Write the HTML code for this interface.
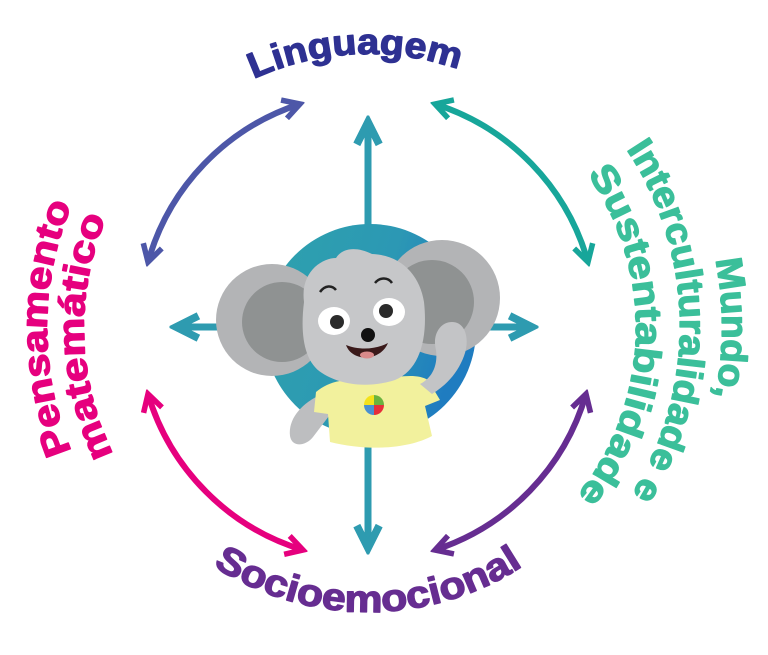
<!DOCTYPE html>
<html><head><meta charset="utf-8"><style>
html,body{margin:0;padding:0;background:#fff;}
svg{display:block;}
text{font-family:"Liberation Sans",sans-serif;font-weight:bold;stroke-width:1.3;stroke-linejoin:round;}
</style></head><body>
<svg width="768" height="655" viewBox="0 0 768 655" xmlns="http://www.w3.org/2000/svg">
<defs>
<linearGradient id="cg" x1="0" y1="0" x2="1" y2="0.3">
<stop offset="0" stop-color="#2ea2ad"/><stop offset="0.6" stop-color="#2c98b4"/><stop offset="1" stop-color="#1f7cc0"/>
</linearGradient>
<marker id="mb" viewBox="0 0 10 10" refX="8" refY="5" markerUnits="userSpaceOnUse" markerWidth="24" markerHeight="24" orient="auto-start-reverse"><path d="M1,1 L8,5 L1,9" fill="none" stroke="#4d57a8" stroke-width="2.3"/></marker>
<marker id="mt" viewBox="0 0 10 10" refX="8" refY="5" markerUnits="userSpaceOnUse" markerWidth="24" markerHeight="24" orient="auto-start-reverse"><path d="M1,1 L8,5 L1,9" fill="none" stroke="#17a69a" stroke-width="2.3"/></marker>
<marker id="mp" viewBox="0 0 10 10" refX="8" refY="5" markerUnits="userSpaceOnUse" markerWidth="24" markerHeight="24" orient="auto-start-reverse"><path d="M1,1 L8,5 L1,9" fill="none" stroke="#662d91" stroke-width="2.3"/></marker>
<marker id="mm" viewBox="0 0 10 10" refX="8" refY="5" markerUnits="userSpaceOnUse" markerWidth="24" markerHeight="24" orient="auto-start-reverse"><path d="M1,1 L8,5 L1,9" fill="none" stroke="#e6007e" stroke-width="2.3"/></marker>
<marker id="ms" viewBox="0 0 10 10" refX="8" refY="5" markerUnits="userSpaceOnUse" markerWidth="32" markerHeight="32" orient="auto-start-reverse"><path d="M1,1.5 L8,5 L1,8.5" fill="none" stroke="#2e9bb0" stroke-width="2.4"/></marker>
<path id="pTop" d="M94 328 A274 274 0 0 1 642 328"/>
<path id="pBot" d="M84 328 A284 284 0 0 0 652 328"/>
<path id="pR1" d="M368 -26 A354 354 0 0 1 368 682"/>
<path id="pR2" d="M362 8 A318 318 0 0 1 362 644"/>
<path id="pR3" d="M368 60 A268 268 0 0 1 368 596"/>
<path id="pL1" d="M368 649 A321 321 0 0 1 368 7"/>
<path id="pL2" d="M368 612 A284 284 0 0 1 368 44"/>
</defs>

<path d="M148 262 A232 232 0 0 1 300 104" fill="none" stroke="#4d57a8" stroke-width="6" marker-start="url(#mb)" marker-end="url(#mb)"/>
<path d="M435 104 A232 232 0 0 1 588 262" fill="none" stroke="#17a69a" stroke-width="6" marker-start="url(#mt)" marker-end="url(#mt)"/>
<path d="M586 394 A232 232 0 0 1 435 550" fill="none" stroke="#662d91" stroke-width="6" marker-start="url(#mp)" marker-end="url(#mp)"/>
<path d="M303 550 A232 232 0 0 1 148 394" fill="none" stroke="#e6007e" stroke-width="6" marker-start="url(#mm)" marker-end="url(#mm)"/>

<line x1="368" y1="122" x2="368" y2="548" stroke="#2e9bb0" stroke-width="7" marker-start="url(#ms)" marker-end="url(#ms)"/>
<line x1="176" y1="327" x2="532" y2="327" stroke="#2e9bb0" stroke-width="7" marker-start="url(#ms)" marker-end="url(#ms)"/>

<circle cx="370" cy="330" r="106" fill="url(#cg)"/>

<circle cx="272" cy="320" r="56" fill="#b3b4b6"/>
<circle cx="282" cy="322" r="40" fill="#8f9292"/>
<circle cx="442" cy="298" r="58" fill="#b3b4b6"/>
<circle cx="432" cy="302" r="42" fill="#8f9292"/>
<path d="M318 396 C300 405 288 420 290 436 C292 448 306 446 313 437 L332 412 Z" fill="#bdbec0"/>
<path d="M316 392 C330 380 350 378 368 380 C395 378 415 372 428 380 L440 400 L425 406 L432 436 C410 448 370 452 330 442 L328 414 L314 412 Z" fill="#f2f19d"/>
<path d="M420 384 C432 378 438 366 436 350 C432 335 440 322 452 322 C466 322 470 340 464 356 C458 372 448 384 432 394 Z" fill="#c3c4c6"/>
<path d="M304 302 C300 272 322 258 336 258 C342 248 356 246 372 254 C402 255 420 276 424 302 C428 338 420 370 395 380 C370 388 342 386 322 373 C304 362 300 334 304 302 Z" fill="#c6c7c9"/>
<ellipse cx="334" cy="321" rx="16" ry="14" fill="#fff"/>
<ellipse cx="389" cy="312" rx="16" ry="14" fill="#fff"/>
<circle cx="337" cy="322" r="7" fill="#2b2b2b"/>
<circle cx="386" cy="311" r="7" fill="#2b2b2b"/>
<path d="M320 292 C325 285 332 285 336 290" fill="none" stroke="#222" stroke-width="2.5"/>
<path d="M375 283 C380 277 388 277 392 283" fill="none" stroke="#222" stroke-width="2.5"/>
<circle cx="368" cy="335" r="7" fill="#111"/>
<path d="M346 345 C352 362 380 362 388 343 C375 350 358 350 346 345 Z" fill="#3a1a1a"/>
<ellipse cx="367" cy="355" rx="7" ry="3.5" fill="#d98a8a"/>
<path d="M374 405 L374 395 A10 10 0 0 0 364 405 Z" fill="#f4e21a"/>
<path d="M374 405 L384 405 A10 10 0 0 0 374 395 Z" fill="#6ab33e"/>
<path d="M374 405 L374 415 A10 10 0 0 0 384 405 Z" fill="#e62e3a"/>
<path d="M374 405 L364 405 A10 10 0 0 0 374 415 Z" fill="#4a90d0"/>

<text font-size="36" fill="#2e3192" stroke="#2e3192"><textPath href="#pTop" startOffset="48.5%" text-anchor="middle" textLength="210" lengthAdjust="spacingAndGlyphs">Linguagem</textPath></text>
<text font-size="38" fill="#662d91" stroke="#662d91"><textPath href="#pBot" startOffset="50%" text-anchor="middle" textLength="328" lengthAdjust="spacingAndGlyphs">Socioemocional</textPath></text>
<text font-size="37" fill="#3bbf9a" stroke="#3bbf9a"><textPath href="#pR1" startOffset="50%" text-anchor="middle" textLength="138" lengthAdjust="spacingAndGlyphs">Mundo,</textPath></text>
<text font-size="37" fill="#3bbf9a" stroke="#3bbf9a"><textPath href="#pR2" startOffset="49.5%" text-anchor="middle" textLength="365" lengthAdjust="spacingAndGlyphs">Interculturalidade e</textPath></text>
<text font-size="37" fill="#3bbf9a" stroke="#3bbf9a"><textPath href="#pR3" startOffset="51%" text-anchor="middle" textLength="345" lengthAdjust="spacingAndGlyphs">Sustentabilidade</textPath></text>
<text font-size="37" fill="#e6007e" stroke="#e6007e"><textPath href="#pL1" startOffset="50%" text-anchor="middle" textLength="253" lengthAdjust="spacingAndGlyphs">Pensamento</textPath></text>
<text font-size="37" fill="#e6007e" stroke="#e6007e"><textPath href="#pL2" startOffset="49%" text-anchor="middle" textLength="244" lengthAdjust="spacingAndGlyphs">matemático</textPath></text>
</svg>
</body></html>
